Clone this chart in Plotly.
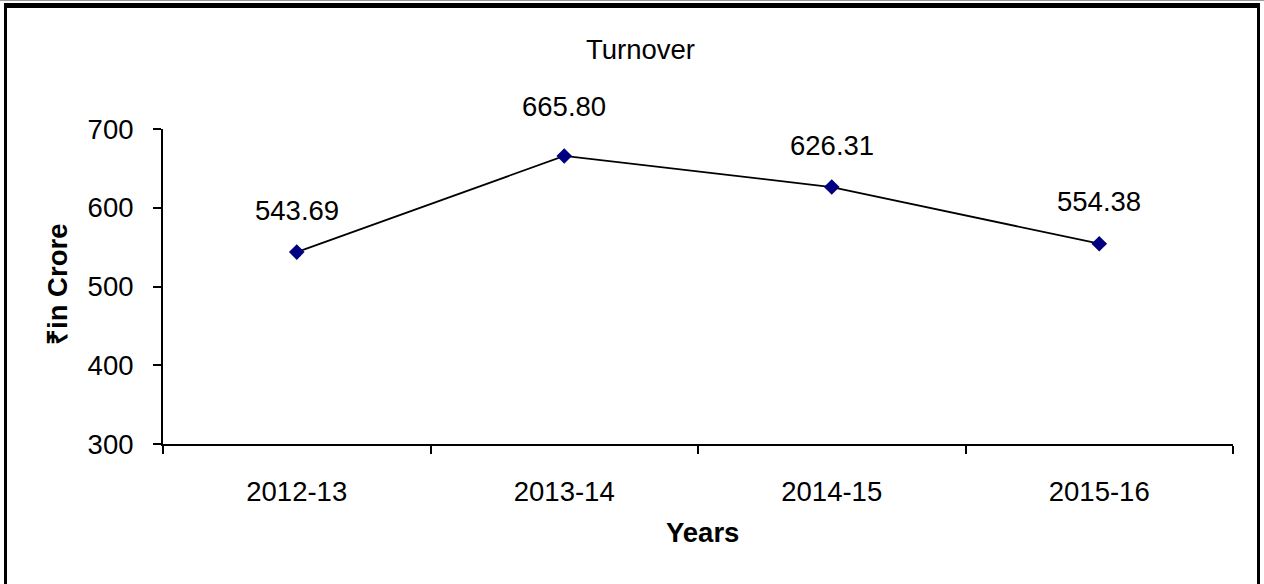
import plotly.graph_objects as go

years = ["2012-13", "2013-14", "2014-15", "2015-16"]
turnover = [543.69, 665.80, 626.31, 554.38]
y_ticks = [300, 400, 500, 600, 700]
label_shift = [42, 49, 42, 42]

W, H = 1264, 584
L, R, T, B = 163, 31, 129, 140
PW, PH = W - L - R, H - T - B

def px(x):
    return (x - L) / PW

def py(y):
    return (H - B - y) / PH

FONT = "Liberation Sans, Arial, sans-serif"
FS = 27.5

fig = go.Figure()
fig.add_trace(go.Scatter(
    x=years, y=turnover, mode="lines+markers",
    line=dict(color="black", width=1.8),
    marker=dict(symbol="diamond", size=12, color="#000080"),
    hoverinfo="x+y", showlegend=False,
))

annotations = []
for yr, v, s in zip(years, turnover, label_shift):
    annotations.append(dict(x=yr, y=v, xref="x", yref="y", text=f"{v:.2f}",
                            showarrow=False, yshift=s, yanchor="middle",
                            font=dict(size=FS, color="black", family=FONT)))
annotations.append(dict(x=px(640), y=py(49), xref="paper", yref="paper", text="Turnover",
                        showarrow=False, xanchor="center", yanchor="middle",
                        font=dict(size=FS, color="black", family=FONT)))
annotations.append(dict(x=px(702), y=py(532), xref="paper", yref="paper", text="<b>Years</b>",
                        showarrow=False, xanchor="center", yanchor="middle",
                        font=dict(size=FS, color="black", family=FONT)))
annotations.append(dict(x=px(57), y=py(285), xref="paper", yref="paper", text="<b>₹in Crore</b>",
                        showarrow=False, xanchor="center", yanchor="middle", textangle=-90,
                        font=dict(size=FS, color="black", family=FONT)))

shapes = [
    dict(type="line", xref="paper", yref="paper", x0=px(-5), x1=px(W + 5), y0=py(0.5), y1=py(0.5),
         line=dict(color="#999999", width=1)),
    dict(type="line", xref="paper", yref="paper", x0=px(4), x1=px(1260), y0=py(5.5), y1=py(5.5),
         line=dict(color="black", width=5)),
    dict(type="line", xref="paper", yref="paper", x0=px(5.5), x1=px(5.5), y0=py(4), y1=py(H + 10),
         line=dict(color="black", width=3)),
    dict(type="line", xref="paper", yref="paper", x0=px(1258.5), x1=px(1258.5), y0=py(4), y1=py(H + 10),
         line=dict(color="black", width=3)),
]

fig.update_layout(
    width=W, height=H,
    margin=dict(l=L, r=R, t=T, b=B, pad=0),
    paper_bgcolor="white", plot_bgcolor="white",
    font=dict(family=FONT, size=FS, color="black"),
    annotations=annotations, shapes=shapes,
    xaxis=dict(type="category", range=[-0.5, 3.5], tickson="boundaries",
               ticks="outside", ticklen=8, tickwidth=2, tickcolor="black",
               showline=True, linecolor="black", linewidth=2, showgrid=False,
               zeroline=False, ticklabelstandoff=22,
               tickfont=dict(size=FS, family=FONT, color="black")),
    yaxis=dict(range=[300, 700], tickvals=y_ticks, ticktext=[str(t) for t in y_ticks],
               ticks="outside", ticklen=8, tickwidth=2, tickcolor="black",
               showline=True, linecolor="black", linewidth=2, showgrid=False,
               zeroline=False, ticklabelstandoff=14,
               tickfont=dict(size=FS, family=FONT, color="black")),
)

fig.write_html("out.html", config={"displayModeBar": False},
               post_script="document.body.style.margin='0';document.body.style.overflow='hidden';")
